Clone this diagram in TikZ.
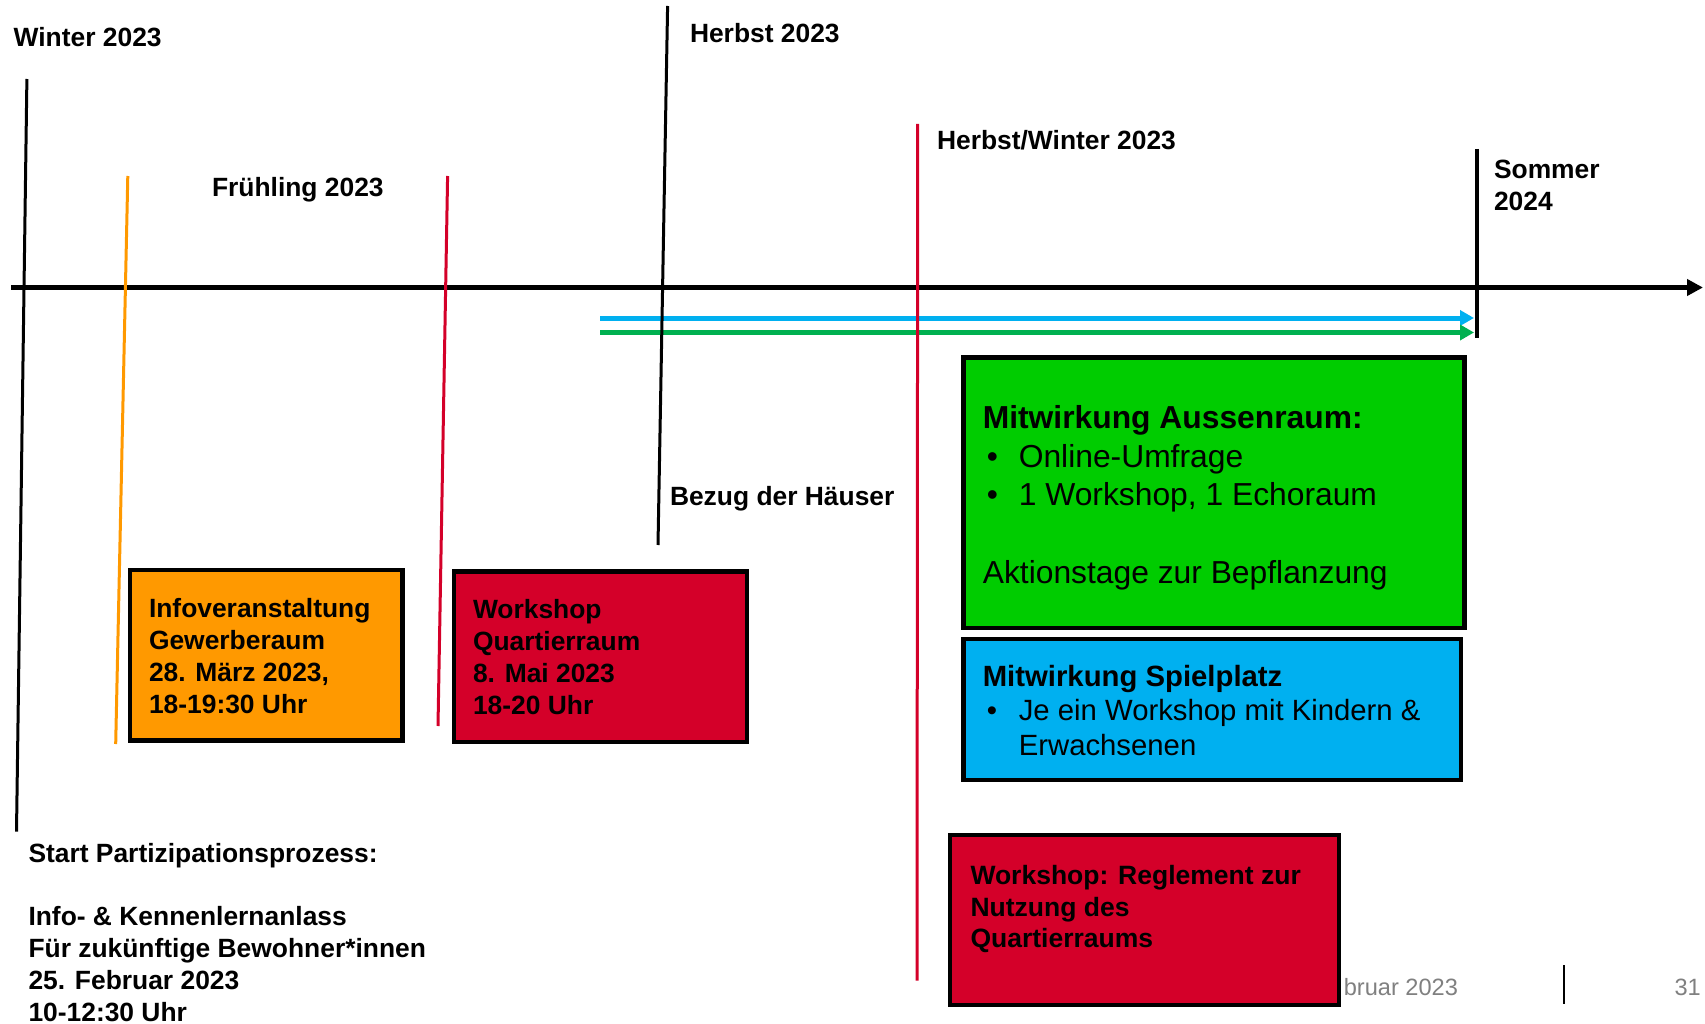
\documentclass[tikz,border=0pt]{standalone}
\usepackage{fontspec}
\setmainfont{Liberation Sans}
\usetikzlibrary{arrows.meta,calc}
\definecolor{korange}{HTML}{FF9900}
\definecolor{kred}{HTML}{D40029}
\definecolor{kgreen}{HTML}{00CC00}
\definecolor{kblue}{HTML}{00B0F0}
\definecolor{karrgreen}{HTML}{00B050}
\definecolor{kgray}{HTML}{808080}
\newcommand\mylines[1]{\vtop{\halign{##\hfil\cr#1\crcr}}}
\newcommand\bul{\hbox to 36pt{\hskip4pt\textbullet\hfil}}
\tikzset{
  box/.style={draw=black, line width=4.5pt, inner sep=0pt, outer sep=0pt, anchor=north west},
  lbl/.style={anchor=base west, inner sep=0pt, outer sep=0pt, font=\fontsize{26.4}{32}\selectfont\bfseries},
  tline/.style={line width=3pt, line cap=butt},
  foot/.style={anchor=base west, inner sep=0pt, outer sep=0pt, text=kgray, font=\fontsize{23.6}{28}\selectfont},
}
\begin{document}
\begin{tikzpicture}[x=1pt,y=-1pt]
\useasboundingbox (0,0) rectangle (1705,1024);
\fill[white] (0,0) rectangle (1705,1024);

% coordinates
\coordinate (axL) at (11,287.5);
\coordinate (axR) at (1703,287.5);
\coordinate (bL) at (600,318);
\coordinate (bR) at (1474,318);
\coordinate (gL) at (600,332.5);
\coordinate (gR) at (1474,332.5);
\coordinate (wT) at (26.9,79);
\coordinate (wB) at (16.5,831.7);
\coordinate (oT) at (127.8,176);
\coordinate (oB) at (115.7,744);
\coordinate (r1T) at (447.6,176);
\coordinate (r1B) at (438,726);
\coordinate (hT) at (667.6,6);
\coordinate (hB) at (658,545);
\coordinate (hwT) at (917.7,124);
\coordinate (hwB) at (917,980.5);
\coordinate (sT) at (1477,149);
\coordinate (sB) at (1477,338);
\coordinate (fT) at (1564,965);
\coordinate (fB) at (1564,1004);

% axis and arrows
\draw[line width=5pt, -{Triangle[length=16pt,width=16pt]}] (axL) -- (axR);
\draw[line width=5pt, kblue, -{Triangle[length=14pt,width=15pt]}] (bL) -- (bR);
\draw[line width=5pt, karrgreen, -{Triangle[length=14pt,width=15pt]}] (gL) -- (gR);

% vertical lines
\draw[tline] (wT) -- (wB);
\draw[tline, korange] (oT) -- (oB);
\draw[tline, kred] (r1T) -- (r1B);
\draw[tline] (hT) -- (hB);
\draw[tline, kred] (hwT) -- (hwB);
\draw[tline, line width=3.5pt] (sT) -- (sB);

% labels
\node[lbl] (winter) at (13.7,47) {Winter 2023};
\node[lbl] (fruehling) at (212,197) {Frühling 2023};
\node[lbl] (herbst) at (690,42.7) {Herbst 2023};
\node[lbl] (hw) at (937,150) {Herbst/Winter 2023};
\node[lbl] (sommer) at (1494,178.7) {\mylines{Sommer\cr 2024}};
\node[lbl] (bezug) at (670,505) {Bezug der Häuser};
\node[lbl, font=\fontsize{26.4}{31.7}\selectfont\bfseries] (start) at (28.5,862.5) {\mylines{Start Partizipationsprozess:\cr \cr Info- \& Kennenlernanlass\cr Für zukünftige Bewohner*innen\cr 25. Februar 2023\cr 10-12:30 Uhr}};

% footer
\node[foot] (date) at (1343.8,995.8) {bruar 2023};
\draw[line width=2.5pt] (fT) -- (fB);
\node[foot] (page) at (1674.6,995.8) {31};

% boxes
\node[box, fill=korange, minimum width=272.5pt, minimum height=170.5pt] (org) at (130,570) {};
\node[lbl] (orgt) at ($(org.north west)+(19,47.3)$) {\mylines{Infoveranstaltung\cr Gewerberaum\cr 28. März 2023,\cr 18-19:30 Uhr}};

\node[box, fill=kred, minimum width=293.2pt, minimum height=170.3pt] (red1) at (453.8,571.5) {};
\node[lbl] (red1t) at ($(red1.north west)+(19.2,46.8)$) {\mylines{Workshop\cr Quartierraum\cr 8. Mai 2023\cr 18-20 Uhr}};

\node[box, fill=kgreen, minimum width=501pt, minimum height=270.5pt] (green) at (963.5,357.5) {};
\node[lbl, font=\fontsize{31.8}{38.6}\selectfont] (greent) at ($(green.north west)+(19.3,71.1)$) {\mylines{\textbf{Mitwirkung Aussenraum:}\cr \bul Online-Umfrage\cr \bul 1 Workshop, 1 Echoraum\cr \cr Aktionstage zur Bepflanzung}};

\node[box, fill=kblue, minimum width=497.5pt, minimum height=141pt] (blue) at (963.5,639) {};
\node[lbl, font=\fontsize{29.3}{34.7}\selectfont] (bluet) at ($(blue.north west)+(19.3,47)$) {\mylines{\textbf{Mitwirkung Spielplatz}\cr \bul Je ein Workshop mit Kindern \&\cr \hskip36pt Erwachsenen}};

\node[box, fill=kred, minimum width=389pt, minimum height=170pt] (red2) at (950,835) {};
\node[lbl, font=\fontsize{26.5}{31.5}\selectfont\bfseries] (red2t) at ($(red2.north west)+(20.5,49.5)$) {\mylines{Workshop: Reglement zur\cr Nutzung des\cr Quartierraums}};
\end{tikzpicture}
\end{document}
